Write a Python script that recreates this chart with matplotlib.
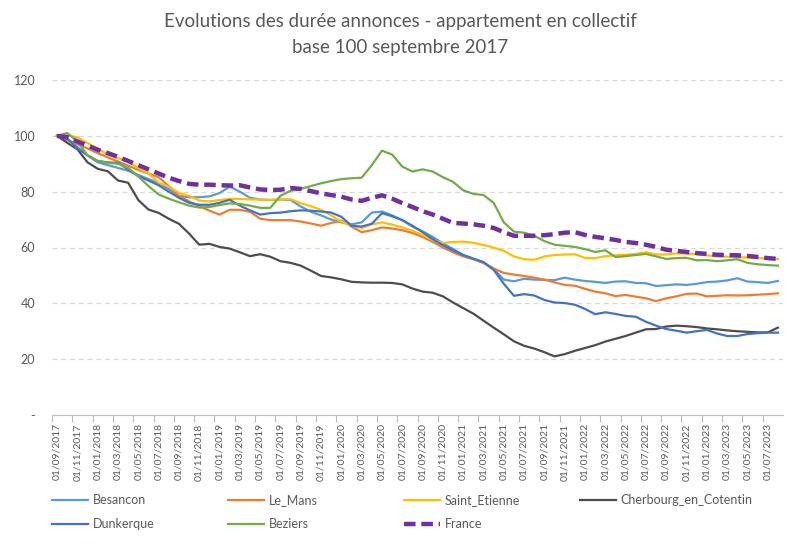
import numpy as np
import matplotlib.pyplot as plt

plt.rcParams['font.family'] = ['Lato', 'DejaVu Sans']

# monthly dates 09/2017 -> 08/2023
dates = ['01/%02d/%d' % ((8 + i) % 12 + 1, 2017 + (8 + i) // 12) for i in range(72)]

besancon = [100, 99, 96, 93, 90.5, 89.5, 88.5, 87.5, 86, 84.5, 83, 81, 78.5, 78, 78, 78.3,
            79.5, 81.8, 80, 77.8, 77.2, 77, 77.2, 77, 74.7, 72.8, 71.5, 70, 69, 68.3, 69, 72.5,
            72.9, 71.5, 69.8, 67.5, 65.8, 63.8, 61.5, 59.5, 57.3, 56, 54.5, 52.3, 48.5, 47.9, 48.8, 48.5,
            48.4, 48.3, 49.2, 48.5, 48, 47.7, 47.3, 47.8, 47.9, 47.3, 47.2, 46.2, 46.5, 46.8, 46.6, 47,
            47.6, 47.8, 48.2, 49, 47.8, 47.6, 47.3, 48]
le_mans = [100, 98.5, 97, 95.5, 93.8, 92.3, 90.8, 89.3, 87.8, 86.5, 85.2, 82, 78.5, 76.5, 74.8, 73.2,
           71.8, 73.5, 73.5, 72.8, 70.3, 69.8, 69.8, 69.8, 69.3, 68.6, 67.8, 68.8, 69.6, 67.5, 65.5, 66.2,
           67.2, 66.8, 66.2, 65.2, 63.8, 62, 60, 58.3, 56.8, 55.8, 54.5, 52.5, 50.9, 50.3, 49.8, 49.2,
           48.5, 47.5, 46.6, 46.3, 45.2, 44.2, 43.6, 42.6, 43, 42.4, 41.8, 40.8, 41.8, 42.5, 43.4, 43.5,
           42.5, 42.7, 42.9, 42.8, 42.9, 43.1, 43.3, 43.6]
saint_etienne = [100, 100.2, 99.5, 97.4, 95.5, 93.2, 92, 90.8, 88.5, 86.6, 83.2, 81.8, 79.6, 78.5, 76.8, 76.5,
                 77, 77.4, 77.4, 77.2, 77.2, 77.1, 77.2, 77.3, 75.9, 74.8, 73.5, 71.5, 69.2, 67.8, 67, 68.3,
                 69, 68.2, 67.2, 66, 64.5, 62.8, 61.6, 62, 62.1, 61.7, 60.9, 60, 58.8, 56.8, 55.8, 55.6,
                 56.8, 57.3, 57.5, 57.6, 56.3, 56.2, 56.9, 57.2, 57.4, 57.7, 58.3, 57.5, 57.5, 57.9, 57.8, 57.6,
                 57.2, 56.8, 56.7, 56.5, 56.4, 56.2, 56.1, 55.9]
cherbourg = [100, 97.5, 95.2, 90.5, 88.2, 87.3, 84, 83.2, 77, 73.6, 72.4, 70.3, 68.5, 65, 61, 61.3,
             60.2, 59.6, 58.3, 56.9, 57.6, 56.7, 55.1, 54.5, 53.5, 51.7, 49.8, 49.3, 48.6, 47.7, 47.5, 47.4,
             47.4, 47.3, 46.8, 45.3, 44.2, 43.8, 42.5, 40.3, 38.3, 36.3, 33.8, 31.3, 28.9, 26.4, 24.8, 23.8,
             22.5, 21, 21.8, 23, 24, 25, 26.3, 27.3, 28.3, 29.5, 30.7, 30.8, 31.7, 32, 31.8, 31.5,
             31, 30.7, 30.3, 30, 29.8, 29.6, 29.6, 31.3]
dunkerque = [100, 99, 95.5, 93, 91, 90.5, 90.3, 88, 85.5, 84, 82.3, 80, 77.8, 76, 75.3, 75.3,
             76, 77.1, 75, 73.3, 71.8, 72.3, 72.5, 73, 73.3, 73.2, 72.9, 72.5, 71, 67.8, 67.5, 68.5,
             72.3, 71.2, 69.8, 67.8, 65.5, 63, 60.8, 59, 57.3, 56, 54.8, 52, 47, 42.7, 43.3, 42.8,
             41.2, 40.3, 40.1, 39.5, 38, 36.1, 36.8, 36.2, 35.5, 35.2, 33.4, 32, 30.8, 30.2, 29.5, 30,
             30.5, 29.2, 28.3, 28.3, 29, 29.3, 29.5, 29.5]
beziers = [100, 101, 98, 93, 91, 90.3, 90, 88.5, 85.5, 82, 79, 77.5, 76.2, 75, 74.3, 74.5,
           75.2, 75.8, 75.6, 75, 74.2, 74.2, 78.5, 80.3, 81, 82, 83, 83.8, 84.5, 84.8, 85, 89.5,
           94.7, 93.3, 89, 87.2, 88, 87.2, 85.2, 83.5, 80.5, 79.2, 78.8, 76, 69, 65.7, 65.3, 64.2,
           62.3, 61, 60.6, 60.2, 59.4, 58.4, 59, 56.6, 56.9, 57.3, 57.7, 56.8, 55.9, 56.2, 56.3, 55.4,
           55.5, 55.1, 55.4, 55.8, 54.5, 54, 53.7, 53.5]
france = [100, 99.5, 98, 96.5, 95, 93.8, 92.5, 91, 89.5, 88, 86.5, 85, 83.8, 82.8, 82.5, 82.5,
          82.3, 82.2, 82.3, 81.5, 80.8, 80.6, 80.7, 81.3, 81, 80.2, 79.4, 78.8, 78.2, 77.2, 76.7, 77.8,
          78.7, 77.5, 75.9, 74.5, 73, 71.8, 70.3, 68.8, 68.6, 68.3, 67.8, 67, 65.5, 64.2, 64.2, 64.2,
          64.4, 64.8, 65.3, 65.5, 64.5, 63.8, 63.3, 62.7, 62, 61.6, 61, 60.2, 59.2, 58.8, 58.4, 58,
          57.7, 57.4, 57.3, 57.2, 57, 56.6, 56.2, 55.9]

series = [
    ('Besancon', besancon, '#5B9BD5'),
    ('Le_Mans', le_mans, '#ED7D31'),
    ('Saint_Etienne', saint_etienne, '#FFC000'),
    ('Cherbourg_en_Cotentin', cherbourg, '#4D4D4D'),
    ('Dunkerque', dunkerque, '#4472C4'),
    ('Beziers', beziers, '#70AD47'),
]

grey = '#595959'
x = np.arange(len(dates))

fig = plt.figure(figsize=(8, 5.45), dpi=100)
ax = fig.add_axes([52 / 800, 1 - 415 / 545, 731 / 800, 335 / 545])

for name, vals, col in series:
    ax.plot(x, vals, color=col, lw=1.6, label=name, solid_joinstyle='round')
ax.plot(x, france, color='#7030A0', lw=3.2, ls=(0, (2.6, 1.3)), label='France')

ax.set_xlim(-0.5, 71.5)
ax.set_ylim(0, 120)
ax.set_yticks(range(0, 121, 20))
ax.set_yticklabels(['-'] + [str(v) for v in range(20, 121, 20)])
ax.yaxis.grid(True, color='#D9D9D9', lw=0.9, ls=(0, (4, 3)))
ax.set_axisbelow(True)

ax.set_xticks(x[::2])
ax.set_xticklabels(dates[::2], rotation=90, fontsize=7.5, color=grey)
ax.set_xticks(np.arange(-0.5, 71, 2), minor=True)
ax.tick_params(axis='x', which='major', length=0, pad=6)
ax.tick_params(axis='x', which='minor', length=5, color='#BFBFBF', width=0.8)
ax.tick_params(axis='y', length=0, labelsize=9, labelcolor=grey, pad=12)

for s in ['top', 'right', 'left']:
    ax.spines[s].set_visible(False)
ax.spines['bottom'].set_color('#BFBFBF')
ax.spines['bottom'].set_linewidth(0.8)

fig.text(0.5, 1 - 22 / 545, 'Evolutions des durée annonces - appartement en collectif',
         ha='center', va='center', fontsize=13.5, color=grey)
fig.text(0.5, 1 - 47 / 545, 'base 100 septembre 2017',
         ha='center', va='center', fontsize=13.5, color=grey)

# legend: 4 equal columns, Excel style
handles, labels = ax.get_legend_handles_labels()
col_x = [52, 228, 404, 580]
for j in range(4):
    idx = [k for k in (j, j + 4) if k < len(handles)]
    fig.legend([handles[k] for k in idx], [labels[k] for k in idx],
               loc='upper left', bbox_to_anchor=(col_x[j] / 800, 1 - 494 / 545),
               frameon=False, fontsize=9, labelcolor=grey, handlelength=2.9,
               handletextpad=0.35, labelspacing=0.95, borderpad=0, borderaxespad=0)

fig.savefig('out.png', dpi=100)
